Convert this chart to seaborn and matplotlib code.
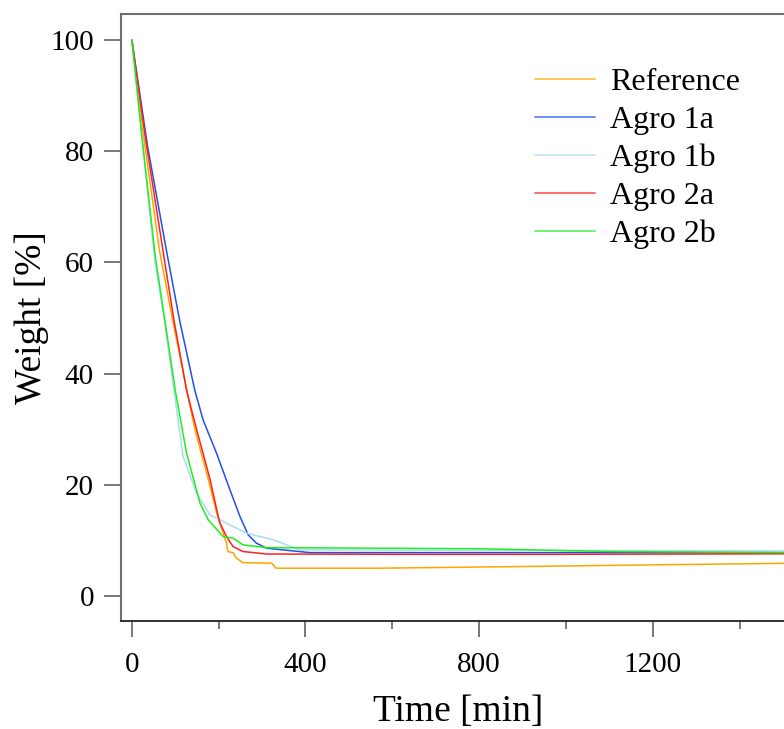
import matplotlib
matplotlib.use("Agg")
import matplotlib.pyplot as plt
import seaborn as sns
import pandas as pd
from matplotlib.ticker import MultipleLocator

series_names = ["Reference", "Agro 1a", "Agro 1b", "Agro 2a", "Agro 2b"]

ref_t = [0, 30, 64, 93, 122, 145, 176, 195, 218, 221, 233, 241, 256, 322, 332, 570, 900, 1200, 1530]
ref_w = [100, 81, 62, 50, 38.8, 30, 21, 15, 9.5, 8.0, 7.8, 6.8, 6.0, 5.9, 5.0, 5.0, 5.3, 5.6, 5.9]

a1a_t = [0, 36, 80, 110, 145, 164, 195, 226, 249, 268, 287, 310, 410, 800, 1530]
a1a_w = [100, 81, 62, 49.6, 37, 31.7, 25.7, 19.1, 14.3, 11.0, 9.5, 8.6, 7.8, 7.8, 7.8]

a1b_t = [0, 24, 53, 75, 97, 118, 149, 180, 264, 326, 387, 800, 1530]
a1b_w = [100, 82, 60.4, 49.6, 37, 25.1, 18.5, 14.6, 11.3, 10.1, 8.3, 8.2, 8.1]

a2a_t = [0, 32, 72, 97, 126, 149, 180, 197, 203, 218, 233, 256, 310, 600, 1000, 1530]
a2a_w = [100, 82, 62, 49.6, 37, 30, 21, 15, 13.1, 10.7, 8.9, 8.0, 7.55, 7.5, 7.5, 7.6]

a2b_t = [0, 24, 54, 76, 100, 126, 157, 176, 210, 233, 256, 310, 800, 1100, 1530]
a2b_w = [100, 82, 61, 49.6, 37, 25.7, 16.7, 13.7, 10.7, 10.4, 9.2, 8.7, 8.5, 8.0, 7.8]

colors = ["#FFA500", "#1F50EE", "#A8DCF5", "#FF2020", "#20EE20"]

frames = []
for name, t, w in zip(series_names,
                      [ref_t, a1a_t, a1b_t, a2a_t, a2b_t],
                      [ref_w, a1a_w, a1b_w, a2a_w, a2b_w]):
    frames.append(pd.DataFrame({"Time": t, "Weight": w, "Sample": name}))
df = pd.concat(frames, ignore_index=True)

sns.set_style("white")
plt.rcParams["font.family"] = ["Liberation Serif", "DejaVu Serif"]
plt.rcParams["text.color"] = "black"
plt.rcParams["axes.labelcolor"] = "black"
plt.rcParams["xtick.labelcolor"] = "black"
plt.rcParams["ytick.labelcolor"] = "black"

fig = plt.figure(figsize=(7.84, 7.29), dpi=100)
ax = fig.add_axes([121/784, (729-621)/729, (795-121)/784, (621-14)/729])

sns.lineplot(data=df, x="Time", y="Weight", hue="Sample", hue_order=series_names,
             palette=dict(zip(series_names, colors)), estimator=None, sort=False,
             linewidth=1.1, ax=ax)

ax.set_xlim(-25, (795-132)/0.434)
ax.set_ylim(-4.5, 104.7)
ax.xaxis.set_major_locator(MultipleLocator(400))
ax.xaxis.set_minor_locator(MultipleLocator(200))
ax.yaxis.set_major_locator(MultipleLocator(20))

for s in ["left", "top"]:
    ax.spines[s].set_color("#707070")
    ax.spines[s].set_linewidth(1.5)
ax.spines["bottom"].set_color("#222222")
ax.spines["bottom"].set_linewidth(1.3)
ax.spines["right"].set_visible(False)

ax.tick_params(axis="y", which="major", length=12.5, width=1.1, color="#555555",
               labelsize=21, pad=7, direction="out", left=True)
ax.tick_params(axis="x", which="major", length=11.5, width=1.1, color="#555555",
               labelsize=21, pad=11, direction="out", bottom=True)
ax.tick_params(axis="x", which="minor", length=6, width=1.1, color="#555555",
               direction="out", bottom=True)

ax.set_xlabel("Time [min]", fontsize=27, labelpad=12)
ax.set_ylabel("Weight [%]", fontsize=27, labelpad=1)

leg = ax.legend(loc="upper left", bbox_to_anchor=(506/784, 1 - 39/729),
                bbox_transform=fig.transFigure, frameon=False,
                fontsize=23, handlelength=1.9, handletextpad=0.47,
                labelspacing=0.27, borderpad=0.4)
for line in leg.get_lines():
    line.set_linewidth(1.3)
    line.set_alpha(0.7)

fig.savefig("out.png", dpi=100)
